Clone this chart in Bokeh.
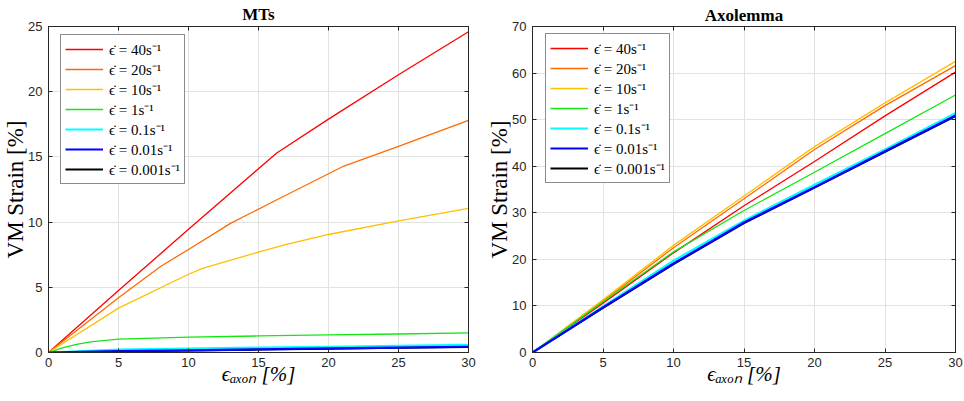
from bokeh.plotting import figure
from bokeh.layouts import row
from bokeh.models import (Range1d, LinearAxis, FixedTicker, Legend, LegendItem,
                          CustomLabelingPolicy)
from bokeh.embed import file_html
from bokeh.resources import INLINE

# ---------------- data ----------------
rates = ["40", "20", "10", "1", "0.1", "0.01", "0.001"]
colors = ["#FF0000", "#FF6A00", "#FFBF00", "#14E614", "#00FFFF", "#0000FF", "#000000"]
widths = [1.3, 1.3, 1.3, 1.3, 2.2, 2.2, 2.2]

x_ticks = [0, 5, 10, 15, 20, 25, 30]
mt_y_ticks = [0, 5, 10, 15, 20, 25]
ax_y_ticks = [0, 10, 20, 30, 40, 50, 60, 70]

# MTs panel
mt_x_40 = [0, 5, 10, 16.3, 20, 25, 30]
mt_40 = [0, 4.75, 9.45, 15.3, 17.9, 21.3, 24.6]
mt_x_20 = [0, 5, 8, 10, 13, 16.1, 21.1, 25, 30]
mt_20 = [0, 4.2, 6.6, 7.9, 9.9, 11.6, 14.3, 15.8, 17.8]
mt_x_10 = [0, 5, 10, 11, 15, 17, 20, 25, 30]
mt_10 = [0, 3.4, 6.0, 6.45, 7.7, 8.3, 9.05, 10.1, 11.05]
mt_x_1 = [0, 1, 2, 3, 5, 10, 15, 20, 25, 30]
mt_1 = [0, 0.35, 0.62, 0.82, 1.02, 1.18, 1.27, 1.35, 1.42, 1.5]
mt_x_low = [0, 5, 10, 15, 20, 25, 30]
mt_01 = [0, 0.22, 0.30, 0.37, 0.44, 0.51, 0.58]
mt_001 = [0, 0.10, 0.17, 0.24, 0.31, 0.38, 0.44]
mt_0001 = [0, 0.09, 0.16, 0.23, 0.30, 0.37, 0.43]

# Axolemma panel
ax_x = [0, 5, 10, 15, 20, 25, 30]
ax_40 = [0, 10.6, 21.4, 31.5, 41.0, 50.8, 60.2]
ax_20 = [0, 11.0, 22.5, 33.0, 43.6, 53.0, 61.6]
ax_10 = [0, 11.3, 23.0, 33.6, 44.2, 53.6, 62.5]
ax_1 = [0, 10.9, 21.6, 30.5, 38.7, 47.0, 55.3]
ax_01 = [0, 9.9, 19.7, 28.3, 36.0, 43.6, 51.4]
ax_001 = [0, 9.7, 19.1, 27.9, 35.5, 43.2, 50.9]
ax_0001 = [0, 9.6, 19.0, 27.8, 35.4, 43.1, 50.8]

mt_series = [(mt_x_40, mt_40), (mt_x_20, mt_20), (mt_x_10, mt_10), (mt_x_1, mt_1),
             (mt_x_low, mt_01), (mt_x_low, mt_001), (mt_x_low, mt_0001)]
ax_series = [(ax_x, ax_40), (ax_x, ax_20), (ax_x, ax_10), (ax_x, ax_1),
             (ax_x, ax_01), (ax_x, ax_001), (ax_x, ax_0001)]

y_label = "VM Strain [%]"
x_label = "ϵₐₓₒₙ [%]"

SERIF = "Liberation Serif"
SANS = "Liberation Sans"
AXC = "#262626"
GRID = "#e2e2e2"

HIDE_LABELS = "for (const i of indices) { indices.unset(i) }\nreturn indices"


def style_axis(axis, ticks, labels=True):
    axis.ticker = FixedTicker(ticks=ticks)
    axis.axis_line_color = AXC
    axis.axis_line_width = 1
    axis.major_tick_line_color = AXC
    axis.major_tick_in = 4
    axis.major_tick_out = 0
    axis.minor_tick_line_color = None
    axis.minor_tick_in = 0
    axis.minor_tick_out = 0
    axis.major_label_text_font = SANS
    axis.major_label_text_color = AXC
    if labels:
        axis.major_label_text_font_size = "13px"
    else:
        axis.major_label_text_font_size = "0px"
        axis.major_label_standoff = 0
        axis.major_label_policy = CustomLabelingPolicy(code=HIDE_LABELS)


def make_panel(width, height, mbl, mbr, mbt, mbb, ymax, yticks, series,
               title, legend_loc, title_standoff):
    p = figure(width=width, height=height, x_range=Range1d(0, 30), y_range=Range1d(0, ymax),
               output_backend="svg", toolbar_location=None,
               min_border_left=mbl, min_border_right=mbr, min_border_top=mbt,
               min_border_bottom=mbb)
    p.outline_line_color = AXC
    p.background_fill_color = "white"
    p.border_fill_color = "white"

    p.title.text = title
    p.title.text_font = SERIF
    p.title.text_font_size = "17px"
    p.title.text_font_style = "bold"
    p.title.text_color = "#000000"
    p.title.align = "center"
    p.title.standoff = title_standoff
    p.title.offset = 0

    style_axis(p.xaxis[0], x_ticks)
    style_axis(p.yaxis[0], yticks)
    p.xaxis[0].major_label_standoff = 5
    p.yaxis[0].major_label_standoff = 6

    p.yaxis[0].axis_label = y_label
    p.yaxis[0].axis_label_text_font = SERIF
    p.yaxis[0].axis_label_text_font_size = "23px"
    p.yaxis[0].axis_label_text_font_style = "normal"
    p.yaxis[0].axis_label_text_color = "#000000"
    p.yaxis[0].axis_label_standoff = -3

    p.xaxis[0].axis_label = x_label
    p.xaxis[0].axis_label_text_font = SERIF
    p.xaxis[0].axis_label_text_font_size = "21px"
    p.xaxis[0].axis_label_text_font_style = "italic"
    p.xaxis[0].axis_label_text_color = "#000000"
    p.xaxis[0].axis_label_standoff = -8

    top = LinearAxis()
    right = LinearAxis()
    style_axis(top, x_ticks, labels=False)
    style_axis(right, yticks, labels=False)
    p.add_layout(top, "above")
    p.add_layout(right, "right")

    p.xgrid[0].ticker = FixedTicker(ticks=x_ticks)
    p.ygrid[0].ticker = FixedTicker(ticks=yticks)
    p.xgrid[0].grid_line_color = GRID
    p.ygrid[0].grid_line_color = GRID

    renderers = [None] * len(series)
    order = [6, 0, 1, 2, 3, 4, 5]
    for i in order:
        xs, ys = series[i]
        renderers[i] = p.line(xs, ys, line_color=colors[i], line_width=widths[i])

    items = [LegendItem(label="ϵ\u0307 = " + rates[i] + "s⁻¹", renderers=[renderers[i]])
             for i in range(len(series))]
    legend = Legend(items=items, location=legend_loc)
    legend.border_line_color = "#1a1a1a"
    legend.border_line_width = 1
    legend.background_fill_color = "white"
    legend.background_fill_alpha = 1.0
    legend.label_text_font = SERIF
    legend.label_text_font_size = "15px"
    legend.label_text_color = "#000000"
    legend.glyph_width = 38
    legend.glyph_height = 18
    legend.label_height = 18
    legend.label_standoff = 6
    legend.padding = 4
    legend.spacing = 0
    legend.margin = 0
    p.add_layout(legend)
    return p


H = 401
p1 = make_panel(484, H, 48, 16, 24, 49, 25, mt_y_ticks, mt_series, "MTs", (12, 168), 5)
p2 = make_panel(479, H, 48, 8, 23, 48, 70, ax_y_ticks, ax_series, "Axolemma", (13, 169), 4)

layout = row(p1, p2)
open("out.html", "w").write(file_html(layout, INLINE))
